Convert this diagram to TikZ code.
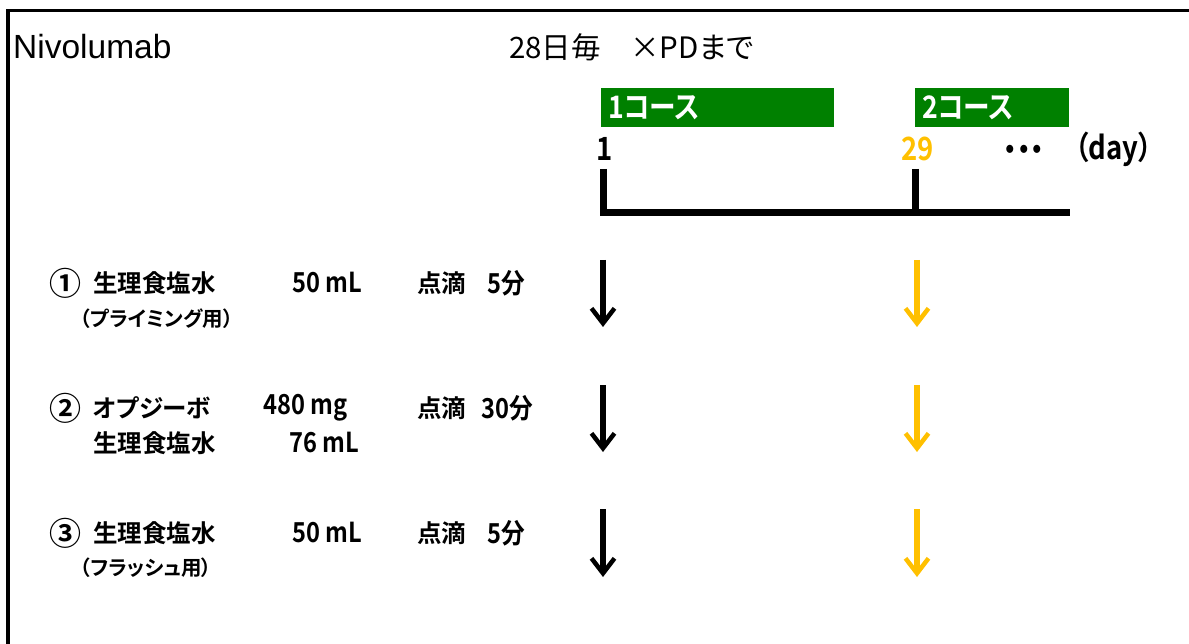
\documentclass[tikz,border=0pt]{standalone}
\usepackage{fontspec}
\setmainfont{Liberation Sans}
\newfontfamily\jpr[RawFeature=+palt]{Noto Sans CJK JP}
\newfontfamily\jpb[RawFeature=+palt]{Noto Sans CJK JP Bold}
\newfontfamily\jpbn[RawFeature=+palt,FakeStretch=0.86]{Noto Sans CJK JP Bold}
\usetikzlibrary{arrows.meta}
\definecolor{gold}{HTML}{FFC000}
\definecolor{cgreen}{HTML}{008000}
\tikzset{
  txt/.style={anchor=west, inner sep=0pt, font=\jpb\fontsize{24.5}{29}\selectfont},
  numtxt/.style={anchor=west, inner sep=0pt, font=\jpbn\fontsize{27.5}{31}\selectfont},
  circ/.style={anchor=west, inner sep=0pt, font=\jpb\fontsize{32}{34}\selectfont},
  subtxt/.style={anchor=west, inner sep=0pt, font=\jpb\fontsize{20.5}{23}\selectfont},
  daytxt/.style={anchor=west, inner sep=0pt, font=\jpbn\fontsize{32}{36}\selectfont},
  course/.style={anchor=north west, fill=cgreen, text=white, inner xsep=7pt, inner ysep=0pt,
    minimum height=39pt, align=left, font=\jpbn\fontsize{31}{33}\selectfont},
  tline/.style={line width=7pt, line join=miter, line cap=butt},
  darr/.style={line width=6.5pt, -{Straight Barb[length=15pt,width=23pt,line width=4.5pt]}},
  frame/.style={line width=3.5pt}
}
\begin{document}
\begin{tikzpicture}[x=1pt,y=-1pt]
\useasboundingbox (0,0) rectangle (1189,644);
% frame (left and top only visible)
\draw[frame] (8,644) -- (8,10.5) -- (1189,10.5);

% titles
\node[anchor=west, inner sep=0pt, font=\fontsize{33.5}{38}\selectfont] (title) at (13,47) {Nivolumab};
\node[anchor=west, inner sep=0pt, font=\jpr\fontsize{29.5}{33}\selectfont] (cycle) at (509,47) {28日毎　×PDまで};

% course boxes
\node[course, text width=219pt] (c1) at (601,88) {1コース};
\node[course, text width=140pt] (c2) at (915,88) {2コース};

% day labels
\node[daytxt] (d1) at (596,149) {1};
\node[daytxt, text=gold] (d29) at (901,149) {29};
\node[daytxt] (dots) at (1003,153) {・・・};
\node[daytxt] (day) at (1075,149) {（day）};

% timeline
\coordinate (t1) at (603,169);
\coordinate (t1b) at (603,213);
\coordinate (t2) at (915.5,169);
\coordinate (t2b) at (915.5,213);
\coordinate (tend) at (1070,213);
\draw[tline] (t1) -- (t1b) -- (tend);
\draw[tline] (t2) -- (t2b);

% row 1
\node[circ] (n1) at (49,283) {①};
\node[txt] (s1) at (93,283) {生理食塩水};
\node[numtxt] (v1) at (292,283) {50 mL};
\node[txt] (r1) at (417,283) {点滴};
\node[numtxt] (m1) at (487,283) {5分};
\node[subtxt] (p1) at (80,319) {（プライミング用）};

% row 2
\node[circ] (n2) at (49,408) {②};
\node[txt] (o2) at (93,408) {オプジーボ};
\node[numtxt] (v2) at (263,408) {480 mg};
\node[txt] (r2) at (417,408) {点滴};
\node[numtxt] (m2) at (481,408) {30分};
\node[txt] (s2) at (93,443) {生理食塩水};
\node[numtxt] (w2) at (289,443) {76 mL};

% row 3
\node[circ] (n3) at (49,533) {③};
\node[txt] (s3) at (93,533) {生理食塩水};
\node[numtxt] (v3) at (292,533) {50 mL};
\node[txt] (r3) at (417,533) {点滴};
\node[numtxt] (m3) at (487,533) {5分};
\node[subtxt] (p3) at (80,568) {（フラッシュ用）};

% arrows
\coordinate (a1s) at (603,260); \coordinate (a1e) at (603,327);
\coordinate (a2s) at (603,385); \coordinate (a2e) at (603,452);
\coordinate (a3s) at (603,509); \coordinate (a3e) at (603,577);
\coordinate (b1s) at (917,260); \coordinate (b1e) at (917,327);
\coordinate (b2s) at (917,385); \coordinate (b2e) at (917,452);
\coordinate (b3s) at (917,509); \coordinate (b3e) at (917,577);
\draw[darr] (a1s) -- (a1e);
\draw[darr] (a2s) -- (a2e);
\draw[darr] (a3s) -- (a3e);
\draw[darr, gold] (b1s) -- (b1e);
\draw[darr, gold] (b2s) -- (b2e);
\draw[darr, gold] (b3s) -- (b3e);
\end{tikzpicture}
\end{document}
